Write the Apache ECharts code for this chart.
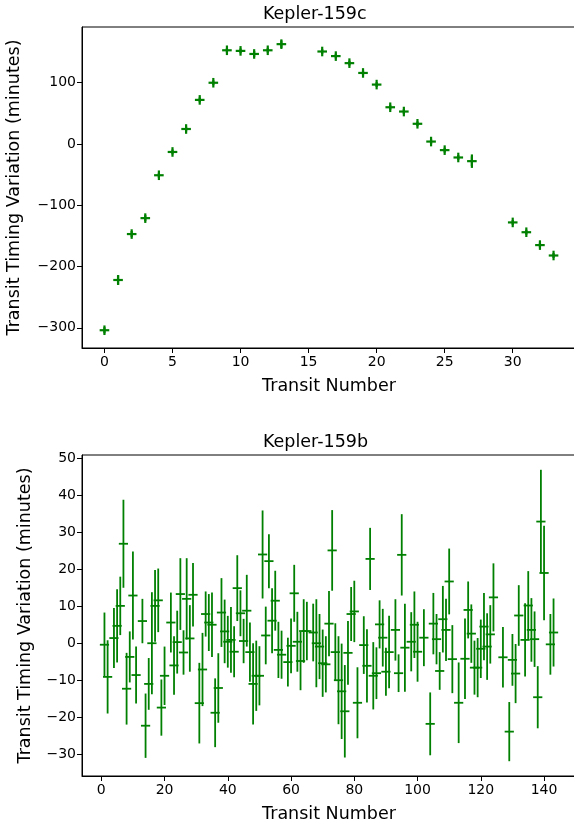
<!DOCTYPE html>
<html>
<head>
<meta charset="utf-8">
<script src="https://cdn.jsdelivr.net/npm/echarts@6/dist/echarts.min.js"></script>
<style>
  html, body { margin: 0; padding: 0; background: #fff; overflow: hidden; }
  #chart { width: 574px; height: 826px; }
</style>
</head>
<body>
<div id="chart"></div>
<script>
// Kepler-159c transit timing variations
const cTransit = [0, 1, 2, 3, 4, 5, 6, 7, 8, 9, 10, 11, 12, 13, 16, 17, 18, 19, 20, 21, 22, 23, 24, 25, 26, 27, 30, 31, 32, 33];
const cTTV = [-304, -222, -147, -121, -51, -13, 24.5, 72, 100, 153, 152, 147, 153, 163, 151, 143.5, 132, 116, 97, 60, 53, 33, 4, -10, -22, -28, -128, -144, -165, -182];
const cErr = [5, 8, 5, 5, 4, 4, 4, 4, 4, 4, 4, 5, 4, 6, 4, 4, 4, 4, 4, 4, 4, 4, 4, 4, 4, 11, 4, 4, 4, 4];

// Kepler-159b transit timing variations
const bTransit = [1, 2, 4, 5, 6, 7, 8, 9, 10, 11, 13, 14, 15, 16, 17, 18, 19, 20, 22, 23, 24, 25, 26, 27, 28, 29,
  31, 32, 33, 34, 35, 36, 37, 38, 39, 40, 41, 42, 43, 44, 45, 46, 47, 48, 49, 50, 51, 52, 53, 54, 55, 56, 57,
  59, 60, 61, 62, 63, 64, 65, 67, 68, 69, 70, 71, 72, 73, 74, 75, 76, 77, 78, 79, 80, 81, 83, 84, 85, 86, 87,
  88, 89, 90, 91, 93, 94, 95, 96, 98, 99, 100, 102, 104, 105, 106, 107, 108, 109, 110, 111, 113, 115, 116, 117,
  118, 119, 120, 121, 122, 123, 124, 127, 129, 130, 131, 132, 134, 135, 136, 137, 138, 139, 140, 142, 143];
const bTTV = [-0.3, -9.0, 1.5, 4.8, 10.2, 27.0, -12.2, -3.6, 13.0, -8.5, 6.1, -22.2, -10.9, 0.1, 10.2, 11.7, -17.3, -8.7, 5.7, -5.9, 0.4, 13.4, -2.4, 12.1, 1.4, 13.2,
  -16.1, -7.0, 8.0, 5.7, 5.1, -18.7, -12.0, 8.4, 3.3, 0.5, 1.0, -2.2, 15.0, 8.2, 0.7, 8.9, -2.3, -10.9, -8.7, -8.7, 24.1, 2.2, 22.3, 6.2, 11.6, -1.7, -3.0,
  -5.0, -0.6, 13.6, 0.5, -4.7, 3.4, 3.4, 3.0, 0.1, -0.8, -5.3, -5.6, 5.4, 25.2, -2.3, -9.9, -12.9, -18.3, -2.5, 8.0, 8.7, -16.0, -0.4, -6.0, 22.9, -8.7, -8.0,
  5.2, 1.6, -7.6, -2.3, 3.7, -8.0, 24.0, -1.1, 0.5, 5.1, -2.2, 1.6, -21.7, 5.4, 1.2, -7.4, 6.6, 3.7, 16.8, -4.2, -16.0, -4.1, 9.1, 2.7,
  -6.5, -6.5, -1.4, 4.6, -0.8, 2.5, 12.5, -3.7, -23.8, -4.4, -8.1, 7.6, 1.0, 10.3, 3.7, 1.2, -14.5, 33.0, 19.1, -0.2, 3.0];
const bErr = [8.7, 9.9, 8.1, 9.9, 7.9, 11.9, 9.7, 6.9, 11.9, 7.7, 6.0, 8.7, 7.0, 13.8, 9.7, 8.6, 7.6, 7.9, 8.1, 7.9, 8.5, 9.7, 6.0, 11.0, 9.0, 8.6,
  10.9, 9.9, 6.1, 7.7, 8.7, 9.3, 9.4, 9.3, 8.6, 7.0, 8.9, 6.9, 8.9, 6.2, 6.0, 9.7, 8.0, 11.0, 9.5, 8.0, 11.9, 7.8, 7.3, 8.8, 8.1, 7.6, 6.5,
  6.6, 7.4, 7.7, 8.1, 7.9, 8.6, 7.9, 7.8, 11.9, 8.8, 9.1, 7.6, 8.8, 10.9, 7.8, 11.9, 12.9, 12.5, 8.6, 7.3, 8.3, 9.6, 7.8, 9.9, 8.4, 9.1, 7.0,
  6.5, 7.8, 6.5, 9.8, 8.3, 5.1, 11.0, 11.9, 8.0, 9.0, 8.1, 7.7, 8.5, 8.3, 6.8, 5.1, 9.0, 8.4, 8.9, 9.2, 10.9, 10.9, 7.7, 7.9,
  7.3, 8.0, 7.9, 9.1, 9.0, 7.9, 9.2, 8.2, 8.0, 7.0, 8.0, 8.2, 9.9, 9.3, 8.6, 7.5, 8.4, 14.0, 12.8, 8.2, 9.2];

// Tick positions
const cXTicks = [0, 5, 10, 15, 20, 25, 30];
const cYTicks = [-300, -200, -100, 0, 100];
const bXTicks = [0, 20, 40, 60, 80, 100, 120, 140];
const bYTicks = [-30, -20, -10, 0, 10, 20, 30, 40, 50];

const GREEN = '#008000';
const FONT = 'DejaVu Sans';
const fmt = v => (v < 0 ? '\u2212' + Math.abs(v) : String(v));

// error bar with a '+' marker at the measured value
function errorBarRenderer(half, lineWidth, vertMarker) {
  return function (params, api) {
    const x = api.value(0), y = api.value(1), e = api.value(2);
    const c = api.coord([x, y]);
    const lo = api.coord([x, y - e]);
    const hi = api.coord([x, y + e]);
    const style = { stroke: GREEN, lineWidth: lineWidth, fill: null };
    const children = [
      { type: 'line', shape: { x1: lo[0], y1: lo[1], x2: hi[0], y2: hi[1] }, style: style },
      { type: 'line', shape: { x1: c[0] - half, y1: c[1], x2: c[0] + half, y2: c[1] }, style: style }
    ];
    if (vertMarker) {
      children.push({ type: 'line', shape: { x1: c[0], y1: c[1] - half, x2: c[0], y2: c[1] + half }, style: style });
    }
    return { type: 'group', children: children };
  };
}

function xAxis(gridIndex, min, max, ticks) {
  return {
    type: 'value', gridIndex: gridIndex, min: min, max: max,
    splitLine: { show: false },
    axisLine: { show: true, onZero: false, lineStyle: { color: '#000', width: 1 } },
    axisTick: { show: true, length: 5, lineStyle: { color: '#000', width: 1 }, customValues: ticks },
    axisLabel: { color: '#000', fontFamily: FONT, fontSize: 14, margin: 7, customValues: ticks, formatter: fmt },
    name: 'Transit Number', nameLocation: 'middle', nameGap: 29,
    nameTextStyle: { color: '#000', fontFamily: FONT, fontSize: 17.5 }
  };
}

function yAxis(gridIndex, min, max, ticks, gap) {
  return {
    type: 'value', gridIndex: gridIndex, min: min, max: max,
    splitLine: { show: false },
    axisLine: { show: true, onZero: false, lineStyle: { color: '#000', width: 1 } },
    axisTick: { show: true, length: 5, lineStyle: { color: '#000', width: 1 }, customValues: ticks },
    axisLabel: { color: '#000', fontFamily: FONT, fontSize: 14, margin: 6, customValues: ticks, formatter: fmt },
    name: 'Transit Timing Variation (minutes)', nameLocation: 'middle', nameGap: gap, nameRotate: 90,
    nameTextStyle: { color: '#000', fontFamily: FONT, fontSize: 17.5 }
  };
}

const titleStyle = { fontFamily: FONT, fontSize: 17.5, fontWeight: 'normal', color: '#000' };

const chart = echarts.init(document.getElementById('chart'), null, { renderer: 'canvas' });
chart.setOption({
  backgroundColor: '#fff',
  animation: false,
  title: [
    { text: 'Kepler-159c', left: 263, top: 5, padding: 0, textStyle: titleStyle },
    { text: 'Kepler-159b', left: 263, top: 433, padding: 0, textStyle: titleStyle }
  ],
  grid: [
    { left: 82, top: 27, width: 494, height: 321, outerBoundsMode: 'none', containLabel: false,
      show: true, borderColor: '#000', borderWidth: 1, backgroundColor: 'transparent' },
    { left: 82, top: 455, width: 494, height: 321, outerBoundsMode: 'none', containLabel: false,
      show: true, borderColor: '#000', borderWidth: 1, backgroundColor: 'transparent' }
  ],
  xAxis: [
    xAxis(0, -1.65, 34.65, cXTicks),
    xAxis(1, -6.1, 150.1, bXTicks)
  ],
  yAxis: [
    yAxis(0, -333, 191, cYTicks, 59),
    yAxis(1, -35.8, 51.0, bYTicks, 48)
  ],
  series: [
    {
      type: 'custom', xAxisIndex: 0, yAxisIndex: 0,
      renderItem: errorBarRenderer(4.8, 2.2, true),
      encode: { x: 0, y: 1 },
      data: cTransit.map((n, i) => [n, cTTV[i], cErr[i]])
    },
    {
      type: 'custom', xAxisIndex: 1, yAxisIndex: 1,
      renderItem: errorBarRenderer(4.6, 1.8, false),
      encode: { x: 0, y: 1 },
      data: bTransit.map((n, i) => [n, bTTV[i], bErr[i]])
    }
  ]
});
</script>
</body>
</html>
